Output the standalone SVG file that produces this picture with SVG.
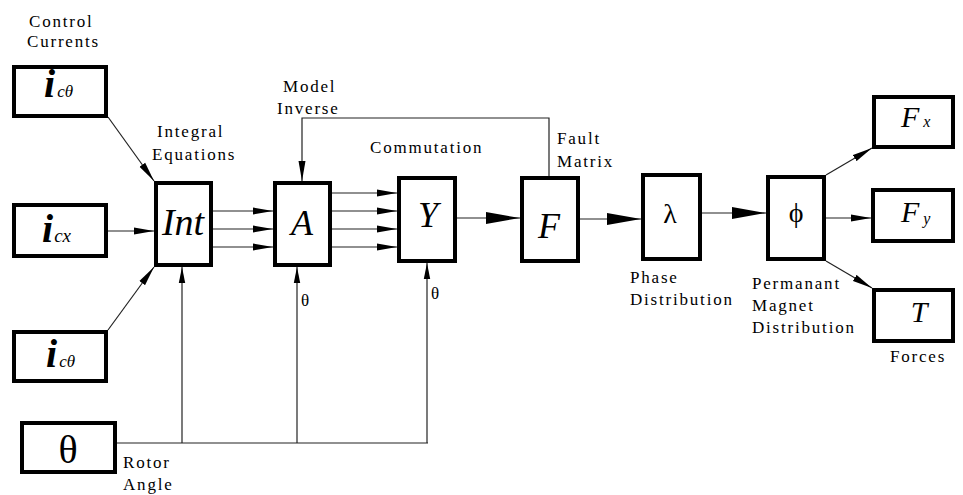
<svg xmlns="http://www.w3.org/2000/svg" width="963" height="495" viewBox="0 0 963 495">
<defs>
<marker id="a" markerUnits="userSpaceOnUse" markerWidth="20" markerHeight="8" refX="20" refY="4" orient="auto"><path d="M0,0.5 L20,4 L0,7.5 z" fill="#000" stroke="none"/></marker>
<marker id="s" markerUnits="userSpaceOnUse" markerWidth="16" markerHeight="8" refX="16" refY="4" orient="auto"><path d="M0,0.8 L16,4 L0,7.2 z" fill="#000" stroke="none"/></marker>
<marker id="b" markerUnits="userSpaceOnUse" markerWidth="34" markerHeight="12" refX="34" refY="6" orient="auto"><path d="M0,0 L34,6 L0,12 z" fill="#000" stroke="none"/></marker>
</defs>

<g id="connectors" fill="none" stroke="#222" stroke-width="1.2">
<path d="M108,117 L154,181" marker-end="url(#a)"/>
<path d="M108,231 H154" marker-end="url(#a)"/>
<path d="M108,330 L154,267" marker-end="url(#a)"/>
<path d="M213,211 H273" marker-end="url(#a)"/>
<path d="M213,229 H273" marker-end="url(#a)"/>
<path d="M213,247 H273" marker-end="url(#a)"/>
<path d="M332,193 H397" marker-end="url(#a)"/>
<path d="M332,211 H397" marker-end="url(#a)"/>
<path d="M332,229 H397" marker-end="url(#a)"/>
<path d="M332,247 H397" marker-end="url(#a)"/>
<path d="M457,218 H520" marker-end="url(#b)"/>
<path d="M580,219 H641" marker-end="url(#b)"/>
<path d="M702,213 H766" marker-end="url(#b)"/>
<path d="M549,176 V118 H302 V181" marker-end="url(#a)"/>
<path d="M826,175 L872,148" marker-end="url(#a)"/>
<path d="M826,218 H871" marker-end="url(#a)"/>
<path d="M826,261 L872,288" marker-end="url(#a)"/>
<path d="M117,443 H428"/>
<path d="M182,443 V267" marker-end="url(#s)"/>
<path d="M297,443 V267" marker-end="url(#s)"/>
<path d="M427,443 V263" marker-end="url(#s)"/>
<text stroke="none" fill="#000" style="font-family:'Liberation Serif',serif;font-size:17px" x="301" y="306">θ</text>
<text stroke="none" fill="#000" style="font-family:'Liberation Serif',serif;font-size:17px" x="431" y="299">θ</text>
</g>

<g id="control-currents-label" fill="#000">
<text style="font-family:'Liberation Serif',serif;font-size:17px;letter-spacing:1.8px" x="29" y="27">Control</text>
<text style="font-family:'Liberation Serif',serif;font-size:17px;letter-spacing:1.8px" x="27" y="47">Currents</text>
</g>

<g id="ic-theta-top">
<rect x="14" y="67" width="92" height="49" fill="#fff" stroke="#000" stroke-width="4"/>
<text style="font-family:'Liberation Serif',serif;font-style:italic" x="44" y="97" fill="#000"><tspan font-weight="bold" font-size="40">i</tspan><tspan font-size="17" dx="2">cθ</tspan></text>
</g>

<g id="ic-x">
<rect x="14" y="205" width="92" height="51" fill="#fff" stroke="#000" stroke-width="4"/>
<text style="font-family:'Liberation Serif',serif;font-style:italic" x="42" y="242" fill="#000"><tspan font-weight="bold" font-size="40">i</tspan><tspan font-size="19" dx="1">cx</tspan></text>
</g>

<g id="ic-theta-bottom">
<rect x="14" y="332" width="92" height="49" fill="#fff" stroke="#000" stroke-width="4"/>
<text style="font-family:'Liberation Serif',serif;font-style:italic" x="46" y="367" fill="#000"><tspan font-weight="bold" font-size="40">i</tspan><tspan font-size="17" dx="2">cθ</tspan></text>
</g>

<g id="theta" fill="#000">
<rect x="22" y="423" width="93" height="49" fill="#fff" stroke="#000" stroke-width="4"/>
<text style="font-family:'Liberation Serif',serif;font-size:40px" text-anchor="middle" x="68" y="463">θ</text>
<text style="font-family:'Liberation Serif',serif;font-size:17px;letter-spacing:1.8px" x="123" y="468">Rotor</text>
<text style="font-family:'Liberation Serif',serif;font-size:17px;letter-spacing:1.8px" x="123" y="490">Angle</text>
</g>

<g id="int" fill="#000">
<rect x="156" y="183" width="55" height="82" fill="#fff" stroke="#000" stroke-width="4"/>
<text style="font-family:'Liberation Serif',serif;font-style:italic;font-size:38px" text-anchor="middle" x="183" y="235">Int</text>
<text style="font-family:'Liberation Serif',serif;font-size:17px;letter-spacing:1.8px" x="157" y="137">Integral</text>
<text style="font-family:'Liberation Serif',serif;font-size:17px;letter-spacing:1.8px" x="152" y="160">Equations</text>
</g>

<g id="a-node" fill="#000">
<rect x="275" y="183" width="55" height="82" fill="#fff" stroke="#000" stroke-width="4"/>
<text style="font-family:'Liberation Serif',serif;font-style:italic;font-size:36px" text-anchor="middle" x="302" y="235">A</text>
<text style="font-family:'Liberation Serif',serif;font-size:17px;letter-spacing:1.8px" x="283" y="92">Model</text>
<text style="font-family:'Liberation Serif',serif;font-size:17px;letter-spacing:1.8px" x="277" y="114">Inverse</text>
</g>

<g id="y-node" fill="#000">
<rect x="399" y="178" width="56" height="83" fill="#fff" stroke="#000" stroke-width="4"/>
<text style="font-family:'Liberation Serif',serif;font-style:italic;font-size:36px" text-anchor="middle" x="428" y="227">Y</text>
<text style="font-family:'Liberation Serif',serif;font-size:17px;letter-spacing:1.8px" x="370" y="153">Commutation</text>
</g>

<g id="f-node" fill="#000">
<rect x="522" y="178" width="56" height="83" fill="#fff" stroke="#000" stroke-width="4"/>
<text style="font-family:'Liberation Serif',serif;font-style:italic;font-size:36px" text-anchor="middle" x="549" y="238">F</text>
<text style="font-family:'Liberation Serif',serif;font-size:17px;letter-spacing:1.8px" x="557" y="144">Fault</text>
<text style="font-family:'Liberation Serif',serif;font-size:17px;letter-spacing:1.8px" x="557" y="167">Matrix</text>
</g>

<g id="lambda" fill="#000">
<rect x="643" y="175" width="57" height="84" fill="#fff" stroke="#000" stroke-width="4"/>
<text style="font-family:'Liberation Serif',serif;font-size:28px" text-anchor="middle" x="670" y="223">λ</text>
<text style="font-family:'Liberation Serif',serif;font-size:17px;letter-spacing:1.8px" x="630" y="283">Phase</text>
<text style="font-family:'Liberation Serif',serif;font-size:17px;letter-spacing:1.8px" x="630" y="305">Distribution</text>
</g>

<g id="phi" fill="#000">
<rect x="768" y="177" width="56" height="82" fill="#fff" stroke="#000" stroke-width="4"/>
<text style="font-family:'Liberation Serif',serif;font-size:28px" text-anchor="middle" x="796" y="222">ϕ</text>
<text style="font-family:'Liberation Serif',serif;font-size:17px;letter-spacing:1.8px" x="752" y="289">Permanant</text>
<text style="font-family:'Liberation Serif',serif;font-size:17px;letter-spacing:1.8px" x="752" y="311">Magnet</text>
<text style="font-family:'Liberation Serif',serif;font-size:17px;letter-spacing:1.8px" x="752" y="333">Distribution</text>
</g>

<g id="fx" fill="#000">
<rect x="874" y="97" width="79" height="50" fill="#fff" stroke="#000" stroke-width="4"/>
<text style="font-family:'Liberation Serif',serif;font-style:italic;font-size:30px" x="901" y="127">F<tspan font-size="16" dx="4">x</tspan></text>
</g>

<g id="fy" fill="#000">
<rect x="873" y="190" width="80" height="51" fill="#fff" stroke="#000" stroke-width="4"/>
<text style="font-family:'Liberation Serif',serif;font-style:italic;font-size:30px" x="901" y="222">F<tspan font-size="16" dx="4" dy="2">y</tspan></text>
</g>

<g id="t-node" fill="#000">
<rect x="874" y="290" width="79" height="51" fill="#fff" stroke="#000" stroke-width="4"/>
<text style="font-family:'Liberation Serif',serif;font-style:italic;font-size:30px" text-anchor="middle" x="919" y="322">T</text>
<text style="font-family:'Liberation Serif',serif;font-size:17px;letter-spacing:1.8px" x="890" y="362">Forces</text>
</g>
</svg>
